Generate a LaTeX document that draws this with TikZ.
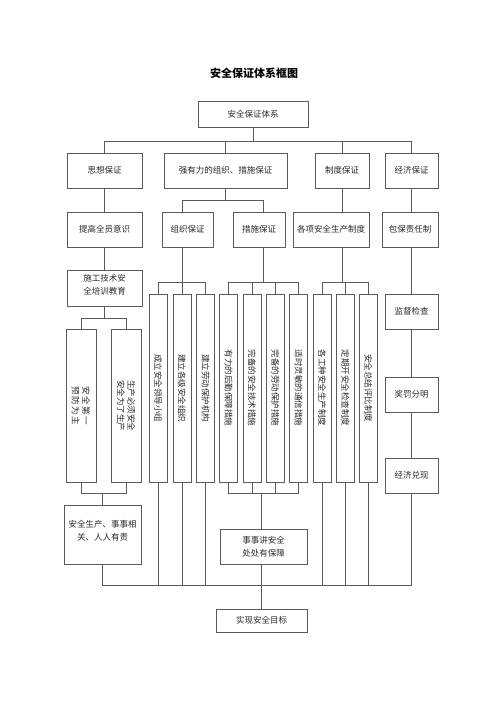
\documentclass[tikz,border=0pt]{standalone}
\usepackage{fontspec}
\setmainfont{Noto Sans CJK SC}
\definecolor{linec}{HTML}{5A5A5A}
\definecolor{txtc}{HTML}{2A2A2A}
\begin{document}
\begin{tikzpicture}[x=1pt,y=-1pt,
 bx/.style n args={2}{draw=linec,line width=.6pt,minimum width=#1pt,minimum height=#2pt,inner sep=0pt,align=center,font=\fontsize{8.5}{12.5}\selectfont,text=txtc},
 ht/.style={font=\fontsize{8.5}{12.5}\selectfont,text=txtc,align=center,inner sep=0pt},
 vt/.style={rotate=-90,font=\fontsize{8.5}{10.5}\selectfont,text=txtc,align=center,inner sep=0pt},
 ln/.style={draw=linec,line width=.6pt}]
\fill[white] (0,0) rectangle (500,708);
\useasboundingbox (0,0) rectangle (500,708);

\node[font=\fontsize{11}{13}\selectfont\bfseries,text=black] (title) at (254,73) {安全保证体系框图};

\node[bx={110}{26}] (top) at (253,114) {安全保证体系};
\node[bx={75}{35}] (sx) at (104.5,170.5) {思想保证};
\node[bx={123}{35}] (zz) at (225.5,170.5) {强有力的组织、措施保证};
\node[bx={54}{35}] (zd) at (342,170.5) {制度保证};
\node[bx={53}{35}] (jj) at (411.5,170.5) {经济保证};

\node[bx={75}{35}] (tg) at (104.5,229.5) {提高全员意识};
\node[bx={51}{35}] (zzbz) at (187.5,229.5) {组织保证};
\node[bx={52}{35}] (csbz) at (259,229.5) {措施保证};
\node[bx={76}{35}] (gx) at (331,229.5) {各项安全生产制度};
\node[bx={56}{35}] (bb) at (410,229.5) {包保责任制};

\node[bx={75}{36}] (sg) at (104.5,288) {};
\node[ht] (sgt) at ([yshift=3pt]sg.center) {施工技术安\\全培训教育};

\node[bx={30}{153}] (a1) at (81,405.5) {};
\node[vt] (a1t) at (a1.center) {安\,全\,第\,一\\预\,防\,为\,主};
\node[bx={30}{153}] (a2) at (126,405.5) {};
\node[vt] (a2t) at (a2.center) {生产必须安全\\安全为了生产};

\node[bx={18}{188}] (g11) at (158,388) {};
\node[vt] (g11t) at (g11.center) {成立安全领导小组};
\node[bx={18}{188}] (g12) at (182,388) {};
\node[vt] (g12t) at (g12.center) {建立各级安全组织};
\node[bx={18}{188}] (g13) at (205.5,388) {};
\node[vt] (g13t) at (g13.center) {建立劳动保护机构};

\node[bx={18}{188}] (g21) at (228.5,388) {};
\node[vt] (g21t) at (g21.center) {有力的后勤保障措施};
\node[bx={18}{188}] (g22) at (252,388) {};
\node[vt] (g22t) at (g22.center) {完备的安全技术措施};
\node[bx={18}{188}] (g23) at (275.5,388) {};
\node[vt] (g23t) at (g23.center) {完备的劳动保护措施};
\node[bx={18}{188}] (g24) at (298.5,388) {};
\node[vt] (g24t) at (g24.center) {适时灵敏的通信措施};

\node[bx={18}{188}] (g31) at (322,388) {};
\node[vt] (g31t) at (g31.center) {各工种安全生产制度};
\node[bx={18}{188}] (g32) at (345.5,388) {};
\node[vt] (g32t) at (g32.center) {定期开安全检查制度};
\node[bx={18}{188}] (g33) at (368.5,388) {};
\node[vt] (g33t) at (g33.center) {安全总结评比制度};

\node[bx={53}{35}] (jd) at (411.5,311.5) {监督检查};
\node[bx={53}{35}] (jf) at (411.5,394.5) {奖罚分明};
\node[bx={53}{35}] (jx) at (411.5,475.5) {经济兑现};

\node[bx={77}{59}] (aq) at (102.5,534.5) {};
\node[ht] (aqt) at ([yshift=4pt]aq.center) {安全生产、事事相\\关、人人有责};
\node[bx={87}{35}] (ss) at (263.5,546.5) {事事讲安全\\处处有保障};
\node[bx={91}{23}] (tgt) at (261.5,620.5) {实现安全目标};

\coordinate (h1) at (0,141);
\coordinate (h2) at (0,200);
\coordinate (h3) at (0,282);
\coordinate (h4) at (0,318);
\coordinate (h5) at (0,493);
\coordinate (h6) at (0,585);
\coordinate (csn) at ([xshift=4pt]csbz.north);
\coordinate (css) at ([xshift=4pt]csbz.south);

\draw[ln] (top.south) -- (top.south |- h1);
\draw[ln] (sx.north) -- (sx.north |- h1) -- (jj.north |- h1) -- (jj.north);
\draw[ln] (zz.north) -- (zz.north |- h1);
\draw[ln] (zd.north) -- (zd.north |- h1);

\draw[ln] (sx.south) -- (tg.north);
\draw[ln] (zz.south) -- (zz.south |- h2);
\draw[ln] (g12.north |- zzbz.north) -- (g12.north |- h2) -- (csn |- h2) -- (csn);
\draw[ln] (zd.south) -- (zd.south |- gx.north);
\draw[ln] (jj.south) -- (jj.south |- bb.north);

\draw[ln] (g12.north |- zzbz.south) -- (g12.north |- h3);
\draw[ln] (g11.north) -- (g11.north |- h3) -- (g13.north |- h3) -- (g13.north);
\draw[ln] (g12.north |- h3) -- (g12.north);
\draw[ln] (css) -- (css |- h3);
\draw[ln] (g21.north) -- (g21.north |- h3) -- (g24.north |- h3) -- (g24.north);
\draw[ln] (g22.north |- h3) -- (g22.north);
\draw[ln] (g23.north |- h3) -- (g23.north);
\draw[ln] (zd.south |- gx.south) -- (zd.south |- h3);
\draw[ln] (g31.north) -- (g31.north |- h3) -- (g33.north |- h3) -- (g33.north);
\draw[ln] (g32.north |- h3) -- (g32.north);

\draw[ln] (jj.south |- bb.south) -- (jd.north);
\draw[ln] (jd.south) -- (jf.north);
\draw[ln] (jf.south) -- (jx.north);

\draw[ln] (tg.south) -- (sg.north);
\draw[ln] (sg.south) -- (sg.south |- h4);
\draw[ln] (a1.north) -- (a1.north |- h4) -- (a2.north |- h4) -- (a2.north);
\draw[ln] (a1.south) -- (a1.south |- h5) -- (a2.south |- h5) -- (a2.south);
\draw[ln] (aq.north |- h5) -- (aq.north);

\draw[ln] (g21.south) -- (g21.south |- h5) -- (g24.south |- h5) -- (g24.south);
\draw[ln] (g22.south) -- (g22.south |- h5);
\draw[ln] (g23.south) -- (g23.south |- h5);
\draw[ln] (tgt.north |- h5) -- (tgt.north |- ss.north);

\draw[ln] (aq.south) -- (aq.south |- h6) -- (jx.south |- h6) -- (jx.south);
\foreach \n in {g11,g12,g13,g31,g32,g33}
  \draw[ln] (\n.south) -- (\n.south |- h6);
\draw[ln] (tgt.north |- ss.south) -- (tgt.north);
\end{tikzpicture}
\end{document}
